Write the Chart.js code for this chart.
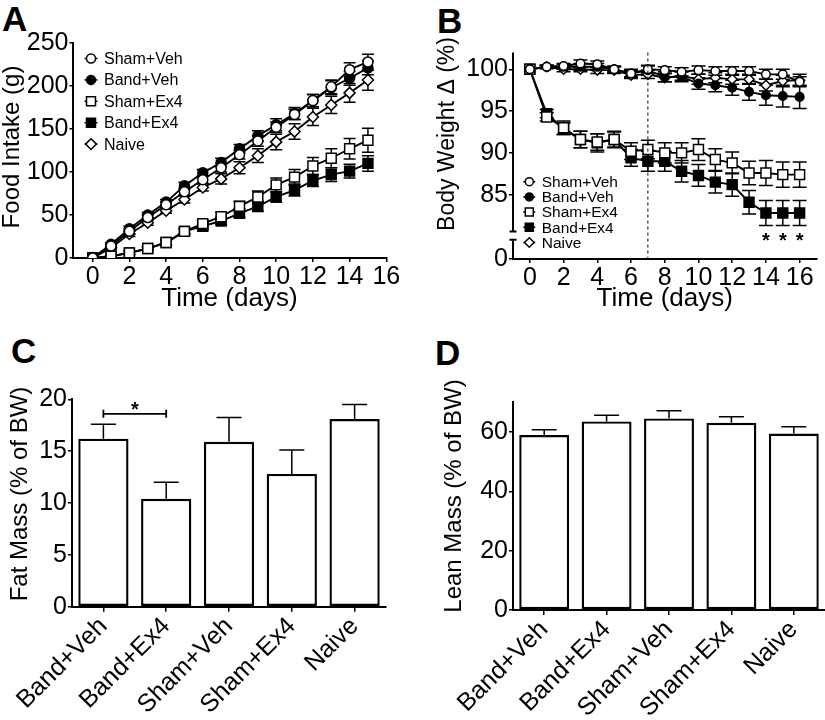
<!DOCTYPE html>
<html lang="en">
<head>
    <meta charset="UTF-8">
    <title>Food intake, body weight and body composition</title>
    <script src="https://cdn.jsdelivr.net/npm/chart.js"></script>
    <style>
        body { margin: 0; background: #fff; font-family: "Liberation Sans", Arial, sans-serif; }
        .panel { position: absolute; }
        .letter { position: absolute; font-weight: bold; font-size: 35px; line-height: 1; }
    </style>
</head>
<body>
    <div class="letter" style="left:2px; top:1px;">A</div>
    <div class="letter" style="left:437px; top:3px;">B</div>
    <div class="letter" style="left:11px; top:333px;">C</div>
    <div class="letter" style="left:435px; top:335px;">D</div>

    <div class="panel" style="left:0; top:0;"><canvas id="chartA" width="404" height="320"></canvas></div>
    <div class="panel" style="left:420px; top:0;"><canvas id="chartB" width="405" height="320"></canvas></div>
    <div class="panel" style="left:0; top:330px;"><canvas id="chartC" width="400" height="390"></canvas></div>
    <div class="panel" style="left:420px; top:330px;"><canvas id="chartD" width="405" height="390"></canvas></div>

    <script>
    // ---- data ----
    const groups = ['Sham+Veh', 'Band+Veh', 'Sham+Ex4', 'Band+Ex4', 'Naive'];

    // A: cumulative food intake (g)
    const daysA = [0, 1, 2, 3, 4, 5, 6, 7, 8, 9, 10, 11, 12, 13, 14, 15];
    const intakeShamVeh = [0, 14, 31, 47, 62, 77, 91, 105, 120, 136, 152, 167, 183, 199, 219, 228];
    const intakeBandVeh = [0, 16, 34, 50, 65, 84, 99, 111, 127, 142, 155, 168, 183, 198, 209, 221];
    const intakeShamEx4 = [0, 2, 6, 11, 18, 31, 40, 48, 60, 71, 85, 94, 107, 116, 127, 137];
    const intakeBandEx4 = [0, 2, 6, 11, 18, 31, 37, 43, 52, 60, 71, 79, 90, 97, 101, 110];
    const intakeNaive   = [0, 12, 28, 41, 55, 68, 82, 92, 105, 119, 135, 147, 164, 178, 192, 207];
    const intakeErrShamVeh = [0, 2, 3, 3, 3, 4, 4, 5, 5, 6, 6, 6, 7, 8, 8, 9];
    const intakeErrBandVeh = [0, 2, 3, 3, 3, 4, 4, 5, 5, 6, 7, 7, 7, 8, 8, 8];
    const intakeErrShamEx4 = [0, 1, 2, 2, 3, 3, 4, 5, 6, 7, 8, 9, 10, 11, 12, 14];
    const intakeErrBandEx4 = [0, 1, 2, 2, 3, 3, 4, 4, 5, 6, 6, 7, 7, 8, 8, 9];
    const intakeErrNaive   = [0, 2, 3, 3, 3, 4, 4, 6, 7, 8, 9, 9, 10, 10, 11, 12];
    const dayTicks = [0, 2, 4, 6, 8, 10, 12, 14, 16];
    const intakeTicks = [0, 50, 100, 150, 200, 250];

    // B: body weight change (% of day 0)
    const daysB = [0, 1, 2, 3, 4, 5, 6, 7, 8, 9, 10, 11, 12, 13, 14, 15, 16];
    const bwShamVeh = [100, 100.3, 100.4, 100.7, 100.6, 100.0, 99.5, 100.0, 99.9, 99.7, 99.9, 99.8, 99.8, 99.8, 99.4, 99.4, 98.5];
    const bwBandVeh = [100, 100.3, 100.3, 100.3, 100.3, 100.0, 99.5, 99.9, 99.1, 99.1, 98.3, 98.1, 97.8, 97.3, 96.9, 96.8, 96.7];
    const bwShamEx4 = [100, 94.3, 93.0, 91.6, 91.3, 91.6, 90.2, 90.4, 90.0, 90.0, 90.4, 89.2, 88.8, 87.6, 87.6, 87.4, 87.4];
    const bwBandEx4 = [100, 94.7, 92.9, 91.6, 91.2, 91.6, 89.4, 89.0, 89.0, 87.8, 87.3, 86.5, 86.2, 84.1, 82.8, 82.8, 82.8];
    const bwNaive   = [100, 100.3, 100.0, 100.0, 99.9, 99.9, 99.3, 99.4, 99.0, 99.2, 98.8, 99.0, 98.8, 98.8, 98.1, 98.6, 98.7];
    const bwErrShamVeh = [0, 0.2, 0.3, 0.4, 0.4, 0.3, 0.4, 0.4, 0.4, 0.5, 0.5, 0.5, 0.5, 0.5, 0.6, 0.6, 0.6];
    const bwErrBandVeh = [0, 0.2, 0.3, 0.4, 0.4, 0.4, 0.5, 0.6, 0.6, 0.6, 0.7, 0.8, 0.9, 1.0, 1.2, 1.3, 1.4];
    const bwErrShamEx4 = [0, 0.5, 0.8, 1.0, 1.0, 0.9, 1.0, 1.1, 1.2, 1.2, 1.3, 1.3, 1.3, 1.4, 1.5, 1.5, 1.5];
    const bwErrBandEx4 = [0, 0.5, 0.7, 1.0, 1.1, 1.0, 1.0, 1.2, 1.2, 1.3, 1.3, 1.3, 1.4, 1.4, 1.5, 1.5, 1.5];
    const bwErrNaive   = [0, 0.2, 0.3, 0.3, 0.4, 0.4, 0.4, 0.5, 0.5, 0.5, 0.6, 0.6, 0.6, 0.6, 0.7, 0.7, 0.7];
    const bwTicks = [85, 90, 95, 100];
    const treatmentDay = 7;
    const starDays = [14, 15, 16];

    // C / D: body composition (% of BW)
    const barGroups = ['Band+Veh', 'Band+Ex4', 'Sham+Veh', 'Sham+Ex4', 'Naive'];
    const fatMass = [16.2, 10.4, 15.9, 12.8, 18.1];
    const fatErr = [1.4, 1.6, 2.35, 2.3, 1.4];
    const fatTicks = [0, 5, 10, 15, 20];
    const leanMass = [59.0, 63.6, 64.6, 63.1, 59.5];
    const leanErr = [1.8, 2.1, 2.6, 2.1, 2.3];
    const leanTicks = [0, 20, 40, 60];

    // ---- look ----
    // broken axis in B: the "0" sits just under the cut
    const bwAxisBase = 77.3, bwCutLow = 79.6, bwCutHigh = 80.6, bwStarLevel = 80.2;
    const fatBracketLevel = 18.6;

    const seriesStyle = {
        'Sham+Veh': { shape: 'circle', fill: '#fff' },
        'Band+Veh': { shape: 'circle', fill: '#000' },
        'Sham+Ex4': { shape: 'rect', fill: '#fff' },
        'Band+Ex4': { shape: 'rect', fill: '#000' },
        'Naive':    { shape: 'rectRot', fill: '#fff' }
    };

    Chart.defaults.font.family = "'Liberation Sans', Arial, Helvetica, sans-serif";
    Chart.defaults.color = '#000';
    Chart.defaults.animation = false;
    Chart.defaults.plugins.legend.display = false;
    Chart.defaults.plugins.tooltip.enabled = false;

    function axisGrid(len) {
        return { display: true, drawOnChartArea: false, drawTicks: true, tickLength: len, color: '#000', lineWidth: 1.5, offset: false };
    }
    const axisBorder = { display: true, color: '#000', width: 2 };
    const setTicks = list => scale => { scale.ticks = list.map(v => ({ value: v })); };

    function lineSet(label, days, vals, errs, sizes) {
        const st = seriesStyle[label];
        return {
            label: label,
            data: days.map((d, i) => ({ x: d, y: vals[i] })),
            errors: errs,
            borderColor: '#000',
            borderWidth: 1.9,
            pointStyle: st.shape,
            pointRadius: sizes[st.shape],
            pointBackgroundColor: st.fill,
            pointBorderColor: '#000',
            pointBorderWidth: 1.5,
            tension: 0
        };
    }

    function drawMarker(ctx, shape, x, y, size, fill) {
        ctx.beginPath();
        if (shape === 'circle') {
            ctx.arc(x, y, size / 2, 0, Math.PI * 2);
        } else if (shape === 'rect') {
            ctx.rect(x - size / 2, y - size / 2, size, size);
        } else {
            const h = size * 0.6;
            ctx.moveTo(x - h, y); ctx.lineTo(x, y - h); ctx.lineTo(x + h, y); ctx.lineTo(x, y + h); ctx.closePath();
        }
        ctx.fillStyle = fill;
        ctx.fill();
        ctx.stroke();
    }

    // ---- plugins ----
    function drawErrors(chart, opts) {
        const ctx = chart.ctx, yScale = chart.scales.y;
        ctx.save();
        ctx.strokeStyle = '#000';
        ctx.lineWidth = opts.width || 1.5;
        chart.data.datasets.forEach((ds, di) => {
            const meta = chart.getDatasetMeta(di);
            meta.data.forEach((el, i) => {
                const e = ds.errors[i];
                if (!e) return;
                const v = typeof ds.data[i] === 'object' ? ds.data[i].y : ds.data[i];
                const top = yScale.getPixelForValue(v + e);
                const bot = opts.upOnly ? yScale.getPixelForValue(v) : yScale.getPixelForValue(v - e);
                ctx.beginPath();
                ctx.moveTo(el.x, top); ctx.lineTo(el.x, bot);
                ctx.moveTo(el.x - opts.cap, top); ctx.lineTo(el.x + opts.cap, top);
                if (!opts.upOnly) { ctx.moveTo(el.x - opts.cap, bot); ctx.lineTo(el.x + opts.cap, bot); }
                ctx.stroke();
            });
        });
        ctx.restore();
    }
    const errorBarPlugin = {
        id: 'errorBars',
        beforeDatasetsDraw(chart, args, opts) { if (!opts.upOnly) drawErrors(chart, opts); },
        afterDatasetsDraw(chart, args, opts) { if (opts.upOnly) drawErrors(chart, opts); }
    };

    const markerLegendPlugin = {
        id: 'markerLegend',
        afterDraw(chart, args, o) {
            const ctx = chart.ctx;
            ctx.save();
            ctx.strokeStyle = '#000';
            ctx.lineWidth = 1.5;
            ctx.font = o.size + "px 'Liberation Sans', Arial, sans-serif";
            ctx.textBaseline = 'middle';
            chart.data.datasets.forEach((ds, i) => {
                const y = o.y + i * o.dy;
                const st = seriesStyle[ds.label];
                ctx.beginPath();
                ctx.moveTo(o.x - o.half, y); ctx.lineTo(o.x + o.half, y);
                ctx.stroke();
                drawMarker(ctx, st.shape, o.x, y, o.mark, st.fill);
                ctx.fillStyle = '#000';
                ctx.fillText(ds.label, o.x + o.gap, y + 1);
            });
            ctx.restore();
        }
    };

    const sideTitlePlugin = {
        id: 'sideTitle',
        afterDraw(chart, args, o) {
            const ctx = chart.ctx;
            ctx.save();
            ctx.translate(o.x, o.y);
            ctx.rotate(-Math.PI / 2);
            ctx.font = o.size + "px 'Liberation Sans', Arial, sans-serif";
            ctx.fillStyle = '#000';
            ctx.textAlign = 'center';
            ctx.textBaseline = 'middle';
            ctx.fillText(o.text, 0, 0);
            ctx.restore();
        }
    };

    const brokenAxisPlugin = {
        id: 'brokenAxis',
        afterDraw(chart) {
            const ctx = chart.ctx, x = chart.scales.x, y = chart.scales.y, area = chart.chartArea;
            const ax = area.left;
            const hi = y.getPixelForValue(bwCutHigh), lo = y.getPixelForValue(bwCutLow);
            ctx.save();
            ctx.strokeStyle = '#000';
            ctx.lineWidth = 2;
            ctx.beginPath();
            ctx.moveTo(ax, area.top); ctx.lineTo(ax, hi);
            ctx.moveTo(ax - 3.5, hi); ctx.lineTo(ax + 3.5, hi);
            ctx.moveTo(ax - 3.5, lo); ctx.lineTo(ax + 3.5, lo);
            ctx.moveTo(ax, lo); ctx.lineTo(ax, area.bottom);
            ctx.stroke();
            // treatment start
            const dx = x.getPixelForValue(treatmentDay);
            ctx.lineWidth = 1;
            ctx.setLineDash([3, 3]);
            ctx.beginPath();
            ctx.moveTo(dx, area.top); ctx.lineTo(dx, area.bottom);
            ctx.stroke();
            ctx.setLineDash([]);
            // significance
            ctx.fillStyle = '#000';
            ctx.font = "bold 20px 'Liberation Sans', Arial, sans-serif";
            ctx.textAlign = 'center';
            ctx.textBaseline = 'alphabetic';
            starDays.forEach(d => {
                ctx.fillText('*', x.getPixelForValue(d), y.getPixelForValue(bwStarLevel) + 12);
            });
            ctx.restore();
        }
    };

    const bracketPlugin = {
        id: 'sigBracket',
        afterDraw(chart, args, o) {
            const ctx = chart.ctx, x = chart.scales.x, y = chart.scales.y;
            const x1 = x.getPixelForValue(o.from), x2 = x.getPixelForValue(o.to), yy = y.getPixelForValue(o.level);
            ctx.save();
            ctx.strokeStyle = '#000';
            ctx.lineWidth = 1.8;
            ctx.beginPath();
            ctx.moveTo(x1, yy); ctx.lineTo(x2, yy);
            ctx.moveTo(x1, yy - 4); ctx.lineTo(x1, yy + 4);
            ctx.moveTo(x2, yy - 4); ctx.lineTo(x2, yy + 4);
            ctx.stroke();
            ctx.fillStyle = '#000';
            ctx.font = "bold 20px 'Liberation Sans', Arial, sans-serif";
            ctx.textAlign = 'center';
            ctx.textBaseline = 'alphabetic';
            ctx.fillText(o.text, (x1 + x2) / 2, yy + 2);
            ctx.restore();
        }
    };

    // ---- A: food intake ----
    const sizesA = { circle: 5, rect: 7, rectRot: 5.5 };
    new Chart(document.getElementById('chartA'), {
        type: 'line',
        data: {
            datasets: [
                lineSet('Sham+Veh', daysA, intakeShamVeh, intakeErrShamVeh, sizesA),
                lineSet('Band+Veh', daysA, intakeBandVeh, intakeErrBandVeh, sizesA),
                lineSet('Sham+Ex4', daysA, intakeShamEx4, intakeErrShamEx4, sizesA),
                lineSet('Band+Ex4', daysA, intakeBandEx4, intakeErrBandEx4, sizesA),
                lineSet('Naive', daysA, intakeNaive, intakeErrNaive, sizesA)
            ]
        },
        options: {
            responsive: false,
            layout: { padding: { left: 0, right: 17.7, top: 43, bottom: 0 } },
            scales: {
                x: {
                    type: 'linear', min: -1.1, max: 16,
                    grid: axisGrid(4), border: axisBorder,
                    afterBuildTicks: setTicks(dayTicks),
                    afterFit: s => { s.height = 62; },
                    ticks: { font: { size: 25 }, padding: 0, maxRotation: 0, autoSkip: false },
                    title: { display: true, text: 'Time (days)', font: { size: 26 }, padding: { top: 0, bottom: 6 } }
                },
                y: {
                    min: 0, max: 250,
                    grid: axisGrid(3), border: axisBorder,
                    afterBuildTicks: setTicks(intakeTicks),
                    afterFit: s => { s.width = 72.5; },
                    ticks: { font: { size: 25 }, padding: 1 }
                }
            },
            plugins: {
                errorBars: { cap: 6 },
                markerLegend: { x: 91, y: 58.5, dy: 21.4, size: 16, mark: 9, half: 6.5, gap: 13 },
                sideTitle: { text: 'Food Intake (g)', x: 12, y: 147, size: 24 }
            }
        },
        plugins: [errorBarPlugin, markerLegendPlugin, sideTitlePlugin]
    });

    // ---- B: body weight ----
    const sizesB = { circle: 4.3, rect: 7, rectRot: 5 };
    new Chart(document.getElementById('chartB'), {
        type: 'line',
        data: {
            datasets: [
                lineSet('Sham+Veh', daysB, bwShamVeh, bwErrShamVeh, sizesB),
                lineSet('Band+Veh', daysB, bwBandVeh, bwErrBandVeh, sizesB),
                lineSet('Sham+Ex4', daysB, bwShamEx4, bwErrShamEx4, sizesB),
                lineSet('Band+Ex4', daysB, bwBandEx4, bwErrBandEx4, sizesB),
                lineSet('Naive', daysB, bwNaive, bwErrNaive, sizesB)
            ]
        },
        options: {
            responsive: false,
            layout: { padding: { left: 0, right: 1, top: 52.6, bottom: 0 } },
            scales: {
                x: {
                    type: 'linear', min: -1, max: 17,
                    grid: axisGrid(4), border: axisBorder,
                    afterBuildTicks: setTicks(dayTicks),
                    afterFit: s => { s.height = 61; },
                    ticks: { font: { size: 25 }, padding: 0, maxRotation: 0, autoSkip: false },
                    title: { display: true, text: 'Time (days)', font: { size: 26 }, padding: { top: 0, bottom: 6 } }
                },
                y: {
                    min: bwAxisBase, max: 102,
                    grid: axisGrid(4), border: { display: false },
                    afterBuildTicks: setTicks([bwAxisBase].concat(bwTicks)),
                    afterFit: s => { s.width = 93; },
                    ticks: { font: { size: 25 }, padding: 1, callback: v => (v === bwAxisBase ? '0' : v) }
                }
            },
            plugins: {
                errorBars: { cap: 7 },
                markerLegend: { x: 109.3, y: 181.7, dy: 15.2, size: 15.5, mark: 8, half: 6, gap: 12.4 },
                sideTitle: { text: 'Body Weight \u0394 (%)', x: 27.5, y: 134, size: 23 }
            }
        },
        plugins: [errorBarPlugin, markerLegendPlugin, sideTitlePlugin, brokenAxisPlugin]
    });

    // ---- C / D: bars ----
    function barChart(id, values, errs, yMax, yTicks, yWidth, xHeight, padRight, padTop, title, extra) {
        return new Chart(document.getElementById(id), {
            type: 'bar',
            data: {
                labels: barGroups,
                datasets: [{
                    data: values,
                    errors: errs,
                    backgroundColor: '#fff',
                    borderColor: '#000',
                    borderWidth: 2.4,
                    borderSkipped: false,
                    barPercentage: 0.8,
                    categoryPercentage: 1
                }]
            },
            options: {
                responsive: false,
                layout: { padding: { left: 0, right: padRight, top: padTop, bottom: 0 } },
                scales: {
                    x: {
                        grid: axisGrid(5), border: axisBorder,
                        afterFit: s => { s.height = xHeight; },
                        ticks: { font: { size: 25 }, padding: 0, minRotation: 45, maxRotation: 45, autoSkip: false }
                    },
                    y: {
                        min: 0, max: yMax,
                        grid: axisGrid(4), border: axisBorder,
                        afterBuildTicks: setTicks(yTicks),
                        afterFit: s => { s.width = yWidth; },
                        ticks: { font: { size: 25 }, padding: 1 }
                    }
                },
                plugins: Object.assign({
                    errorBars: { cap: 12.5, upOnly: true },
                    sideTitle: title
                }, extra || {})
            },
            plugins: [errorBarPlugin, sideTitlePlugin].concat(extra && extra.sigBracket ? [bracketPlugin] : [])
        });
    }

    barChart('chartC', fatMass, fatErr, 20, fatTicks, 72, 113.3, 14, 69.3,
        { text: 'Fat Mass (% of BW)', x: 20, y: 164, size: 24 },
        { sigBracket: { from: 0, to: 1, level: fatBracketLevel, text: '*' } });

    barChart('chartD', leanMass, leanErr, 70, leanTicks, 93, 110, 0, 72.4,
        { text: 'Lean Mass (% of BW)', x: 34, y: 166, size: 24 });
    </script>
</body>
</html>
